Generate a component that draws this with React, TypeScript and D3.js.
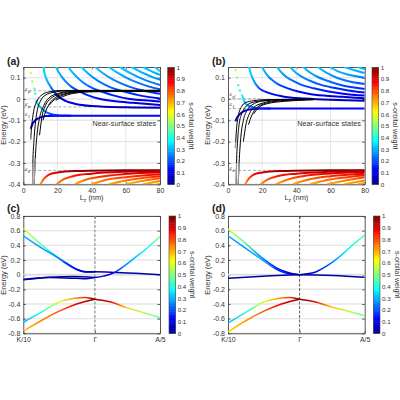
import React, {useEffect, useRef} from "react";
import * as d3 from "d3";

type Pt = number[];

// [Lz, E, weight]
const aWells: Pt[][] = [
  [[4.3, -0.14, 0.1], [5.5, -0.115, 0.1], [7, -0.1, 0.1], [9, -0.09, 0.11], [13.6, -0.08, 0.12], [25, -0.078, 0.13], [80, -0.078, 0.13]],
  [[7.2, -0.005, 0.36], [8.5, -0.025, 0.33], [10.7, -0.043, 0.3], [13, -0.06, 0.26], [15.6, -0.069, 0.2], [20, -0.076, 0.15], [28, -0.078, 0.13]],
  [[11.7, 0.15, 0.34], [12.3, 0.125, 0.33], [13, 0.105, 0.32], [15, 0.07, 0.28], [17, 0.045, 0.22], [20, 0.015, 0.15], [25, -0.01, 0.1], [30, -0.022, 0.08], [40, -0.033, 0.06], [60, -0.039, 0.05], [80, -0.041, 0.05]],
  [[19, 0.15, 0.33], [21, 0.122, 0.3], [23, 0.099, 0.27], [25, 0.08, 0.25], [28, 0.058, 0.22], [33, 0.035, 0.18], [38, 0.017, 0.15], [45, 0, 0.12], [54, -0.011, 0.09], [64, -0.018, 0.08], [80, -0.028, 0.07]],
  [[26.3, 0.15, 0.33], [29, 0.122, 0.3], [31.8, 0.099, 0.27], [34.6, 0.08, 0.25], [38.8, 0.058, 0.22], [45.7, 0.035, 0.18], [52.6, 0.017, 0.15], [62.3, 0, 0.12], [74.7, -0.0085, 0.1], [80, -0.012, 0.09]],
  [[34, 0.15, 0.33], [37.6, 0.122, 0.3], [41.2, 0.099, 0.27], [44.7, 0.08, 0.25], [50.1, 0.058, 0.22], [59, 0.035, 0.18], [68, 0.017, 0.15], [80, 0.002, 0.12]],
  [[42, 0.15, 0.33], [46.4, 0.122, 0.3], [50.8, 0.099, 0.27], [55.3, 0.08, 0.25], [61.9, 0.058, 0.22], [72.9, 0.035, 0.18], [80, 0.024, 0.16]],
  [[50, 0.15, 0.33], [55.3, 0.122, 0.3], [60.5, 0.099, 0.27], [65.8, 0.08, 0.25], [73.6, 0.058, 0.22], [80, 0.046, 0.2]],
  [[56.5, 0.15, 0.33], [62.4, 0.122, 0.3], [68.3, 0.099, 0.27], [74.3, 0.08, 0.25], [80, 0.066, 0.23]],
  [[63.4, 0.15, 0.33], [70.1, 0.122, 0.3], [76.8, 0.099, 0.27], [80, 0.09, 0.26]],
  [[70, 0.15, 0.33], [77.3, 0.122, 0.3], [80, 0.113, 0.29]],
  [[77, 0.15, 0.33], [80, 0.13, 0.31]],
];
const aDots: Pt[] = [[4.5, 0.122, 0.6], [5.3, 0.082, 0.52], [6.6, 0.048, 0.45], [7, 0.025, 0.42]];
const aBlack: Pt[][] = [
  [[4.3, -0.19], [5, -0.12], [6, -0.06], [8, -0.01], [11, 0.02], [15, 0.033], [22, 0.04], [80, 0.041]],
  [[5.4, -0.4], [5.6, -0.3], [6.2, -0.2], [7, -0.12], [8, -0.06], [10, -0.01], [13, 0.018], [18, 0.032], [25, 0.038], [80, 0.04]],
  [[6.4, -0.4], [7, -0.28], [8, -0.17], [9.5, -0.09], [12, -0.03], [15, 0.005], [20, 0.025], [28, 0.036], [35, 0.038], [80, 0.039]],
  [[9.5, -0.17], [11, -0.08], [13, -0.03], [16, 0.002], [20, 0.02], [27, 0.033], [38, 0.037], [80, 0.038]],
  [[11.5, -0.1], [13, -0.06], [15.5, -0.02], [19, 0.008], [24, 0.024], [32, 0.034], [45, 0.037], [80, 0.037]],
  [[15, -0.03], [18, -0.005], [22, 0.014], [28, 0.028], [38, 0.035], [50, 0.036], [80, 0.036]],
  [[19, -0.006], [23, 0.011], [29, 0.026], [38, 0.033], [55, 0.035], [80, 0.035]],
];
const aGrey: Pt[][] = [
  [[5.4, -0.4], [5.5, -0.34], [5.6, -0.3]],
  [[4.3, -0.19], [4.5, -0.17]],
  [[6.4, -0.4], [6.6, -0.34], [7, -0.28]],
];
const aRed: Pt[][] = [
  [[10, -0.4, 0.72], [12, -0.375, 0.8], [15, -0.355, 0.87], [20, -0.345, 0.93], [30, -0.338, 0.97], [50, -0.335, 1], [80, -0.334, 1]],
  [[19.5, -0.4, 0.72], [24, -0.375, 0.8], [30, -0.36, 0.86], [40, -0.35, 0.9], [60, -0.341, 0.95], [80, -0.338, 0.97]],
  [[30, -0.4, 0.7], [36, -0.38, 0.77], [45, -0.365, 0.83], [60, -0.352, 0.89], [80, -0.344, 0.93]],
  [[40, -0.4, 0.7], [48, -0.38, 0.77], [60, -0.367, 0.82], [80, -0.353, 0.88]],
  [[50, -0.4, 0.7], [60, -0.382, 0.76], [70, -0.37, 0.8], [80, -0.362, 0.85]],
  [[60, -0.4, 0.7], [70, -0.384, 0.75], [80, -0.372, 0.8]],
  [[70, -0.4, 0.7], [80, -0.385, 0.75]],
  [[78, -0.4, 0.7], [80, -0.397, 0.71]],
];

const bWells: Pt[][] = [
  [[4.3, -0.105, 0.1], [5.5, -0.085, 0.1], [7, -0.07, 0.1], [10, -0.055, 0.1], [14, -0.048, 0.11], [20, -0.045, 0.12], [80, -0.045, 0.13]],
  [[8, 0.02, 0.38], [9, 0, 0.35], [10, -0.02, 0.32], [13, -0.035, 0.25], [17, -0.043, 0.18], [25, -0.045, 0.13]],
  [[12.3, 0.15, 0.34], [13.5, 0.115, 0.32], [15.8, 0.075, 0.27], [18, 0.052, 0.2], [22.6, 0.032, 0.14], [32, 0.012, 0.09], [45, 0.002, 0.06], [80, -0.008, 0.05]],
  [[20, 0.15, 0.32], [22, 0.122, 0.29], [24, 0.102, 0.26], [26, 0.088, 0.24], [30, 0.066, 0.2], [35, 0.05, 0.16], [41, 0.035, 0.13], [47, 0.025, 0.11], [56, 0.016, 0.09], [67, 0.01, 0.08], [80, 0.003, 0.07]],
  [[28.7, 0.15, 0.32], [31.6, 0.122, 0.29], [34.4, 0.102, 0.26], [37.3, 0.088, 0.24], [43, 0.066, 0.2], [50.2, 0.05, 0.17], [58.8, 0.035, 0.14], [67.4, 0.025, 0.12], [80, 0.016, 0.1]],
  [[36.3, 0.15, 0.32], [39.9, 0.122, 0.29], [43.6, 0.102, 0.26], [47.2, 0.088, 0.24], [54.5, 0.066, 0.2], [63.5, 0.05, 0.17], [74.4, 0.035, 0.14], [80, 0.03, 0.13]],
  [[44, 0.15, 0.32], [48.4, 0.122, 0.29], [52.8, 0.102, 0.26], [57.2, 0.088, 0.24], [66, 0.066, 0.2], [77, 0.05, 0.17], [80, 0.047, 0.16]],
  [[52.5, 0.15, 0.32], [57.8, 0.122, 0.29], [63, 0.102, 0.26], [68.3, 0.088, 0.24], [80, 0.07, 0.2]],
  [[59.7, 0.15, 0.32], [64, 0.131, 0.3], [70, 0.115, 0.28], [80, 0.1, 0.25]],
  [[68, 0.15, 0.32], [74, 0.135, 0.3], [80, 0.122, 0.28]],
  [[76, 0.15, 0.32], [80, 0.139, 0.31]],
];
const bDots: Pt[] = [[4.4, 0.135, 0.58], [5.3, 0.1, 0.5], [6, 0.065, 0.44], [7, 0.04, 0.42]];
const bBlack: Pt[][] = [
  [[4.3, -0.23], [5, -0.14], [6, -0.08], [8, -0.035], [10, -0.018], [15, -0.008], [22, -0.003], [50, -0.001]],
  [[4.8, -0.4], [5, -0.3], [5.6, -0.2], [6.5, -0.12], [8, -0.07], [10, -0.04], [13, -0.02], [20, -0.008], [30, -0.003], [50, -0.0015]],
  [[6, -0.4], [6.5, -0.3], [7.5, -0.18], [9, -0.1], [11, -0.055], [14, -0.028], [20, -0.01], [30, -0.004], [50, -0.002]],
  [[9, -0.2], [10.5, -0.12], [12.5, -0.07], [15, -0.04], [20, -0.02], [30, -0.006], [40, -0.003], [50, -0.0025]],
  [[12, -0.12], [14, -0.075], [17, -0.04], [22, -0.02], [32, -0.008], [45, -0.004]],
  [[15, -0.07], [18, -0.04], [23, -0.022], [33, -0.011], [50, -0.004]],
];
const bGrey: Pt[][] = [
  [[4.8, -0.4], [4.9, -0.34], [5, -0.3]],
  [[6, -0.4], [6.2, -0.34], [6.5, -0.3]],
  [[4.3, -0.23], [4.5, -0.2]],
];
const bRed: Pt[][] = [
  [[10, -0.4, 0.72], [12, -0.375, 0.8], [15, -0.355, 0.87], [20, -0.345, 0.93], [30, -0.338, 0.97], [50, -0.335, 1], [80, -0.334, 1]],
  [[19, -0.4, 0.72], [24, -0.375, 0.8], [30, -0.36, 0.86], [40, -0.35, 0.9], [60, -0.341, 0.95], [80, -0.337, 0.97]],
  [[28, -0.4, 0.7], [36, -0.375, 0.78], [45, -0.36, 0.85], [60, -0.349, 0.9], [80, -0.342, 0.94]],
  [[38, -0.4, 0.7], [46, -0.38, 0.77], [60, -0.362, 0.84], [80, -0.35, 0.9]],
  [[48, -0.4, 0.7], [58, -0.38, 0.77], [70, -0.367, 0.82], [80, -0.358, 0.86]],
  [[58, -0.4, 0.7], [68, -0.383, 0.75], [80, -0.367, 0.82]],
  [[68, -0.4, 0.7], [80, -0.382, 0.75]],
  [[76, -0.4, 0.7], [80, -0.394, 0.72]],
];

// [k, E, weight], k runs K/10 (-1.1) .. Gamma (0) .. A/5 (1)
const cBands: Pt[][] = [
  [[-1.1, 0.63, 0.58], [-0.9, 0.47, 0.5], [-0.7, 0.32, 0.38], [-0.56, 0.23, 0.3], [-0.44, 0.16, 0.2], [-0.28, 0.075, 0.1], [-0.13, 0.04, 0.05], [0, 0.04, 0.03], [0.33, 0.03, 0.03], [0.69, 0.015, 0.03], [1, 0, 0.03]],
  [[-1.1, 0.53, 0.3], [-0.9, 0.41, 0.28], [-0.7, 0.3, 0.28], [-0.56, 0.225, 0.26], [-0.44, 0.15, 0.18], [-0.28, 0.07, 0.1], [-0.13, 0.035, 0.05], [0, 0.035, 0.03]],
  [[0, -0.04, 0.05], [0.13, -0.02, 0.08], [0.28, 0.02, 0.13], [0.44, 0.11, 0.25], [0.59, 0.215, 0.3], [0.8, 0.36, 0.38], [1, 0.52, 0.5]],
  [[-1.1, -0.07, 0.02], [-0.7, -0.035, 0.02], [-0.33, -0.025, 0.02], [0, -0.04, 0.05]],
  [[-1.1, -0.065, 0.02], [-0.7, -0.04, 0.02], [-0.28, -0.05, 0.03], [-0.13, -0.055, 0.03], [0, -0.04, 0.05]],
  [[-1.1, -0.65, 0.3], [-0.8, -0.5, 0.42], [-0.54, -0.37, 0.6], [-0.33, -0.325, 0.72], [-0.15, -0.31, 0.83], [0, -0.335, 1]],
  [[-1.1, -0.77, 0.68], [-0.8, -0.615, 0.75], [-0.54, -0.495, 0.8], [-0.28, -0.4, 0.9], [0, -0.335, 1]],
  [[0, -0.335, 1], [0.23, -0.37, 0.9], [0.49, -0.45, 0.68], [0.75, -0.52, 0.55], [1, -0.585, 0.45]],
];
const dBands: Pt[][] = [
  [[-1.1, 0.62, 0.58], [-0.86, 0.45, 0.48], [-0.6, 0.245, 0.27], [-0.35, 0.09, 0.13], [-0.14, 0.02, 0.05], [0, 0, 0.03]],
  [[-1.1, 0.53, 0.3], [-0.86, 0.38, 0.27], [-0.6, 0.22, 0.3], [-0.35, 0.07, 0.18], [-0.14, 0.008, 0.1], [0, 0, 0.03]],
  [[0, 0, 0.03], [0.21, 0.025, 0.08], [0.42, 0.12, 0.2], [0.62, 0.25, 0.32], [0.72, 0.33, 0.36], [0.85, 0.43, 0.42], [1, 0.54, 0.47]],
  [[-1.1, -0.05, 0.02], [-0.5, -0.02, 0.02], [0, 0, 0.02], [0.52, -0.01, 0.02], [1, -0.035, 0.02]],
  [[-1.1, -0.66, 0.3], [-0.8, -0.5, 0.42], [-0.54, -0.37, 0.6], [-0.33, -0.325, 0.72], [-0.15, -0.31, 0.83], [0, -0.335, 1]],
  [[-1.1, -0.78, 0.66], [-0.8, -0.615, 0.73], [-0.54, -0.495, 0.8], [-0.28, -0.4, 0.9], [0, -0.335, 1]],
  [[0, -0.335, 1], [0.23, -0.37, 0.9], [0.49, -0.44, 0.68], [0.75, -0.5, 0.55], [1, -0.56, 0.48]],
];

const jetStops = [0, 0.125, 0.375, 0.625, 0.875, 1];
const jetColors = ["#00008f", "#0000ff", "#00ffff", "#ffff00", "#ff0000", "#800000"];
const cbTicks = [0, 0.1, 0.2, 0.3, 0.4, 0.5, 0.6, 0.7, 0.8, 0.9, 1];
const lzTicks = [0, 20, 40, 60, 80];
const topEnergyTicks = [-0.4, -0.3, -0.2, -0.1, 0, 0.1];
const bandEnergyTicks = [-0.8, -0.6, -0.4, -0.2, 0, 0.2, 0.4, 0.6, 0.8];
const kTicks = [-1.1, 0, 1];
const kLabels = ["K/10", "Γ", "A/5"];

const FONT = "'Liberation Sans', Arial, sans-serif";
const FRAME = "#444";
const jet = d3.scaleLinear<string>().domain(jetStops).range(jetColors);

function axes(g: any, x: any, y: any, xTicks: number[], yTicks: number[], xFmt: any, yFmt: any) {
  const [x0, x1] = x.range();
  const [y0, y1] = y.range();
  g.append("g").selectAll("line").data(yTicks).join("line")
    .attr("x1", x0).attr("x2", x1).attr("y1", (d: number) => y(d)).attr("y2", (d: number) => y(d))
    .attr("stroke", "#e6e6e6").attr("stroke-width", 1.4);
  g.append("g").attr("transform", `translate(0,${y0})`).attr("class", "ax")
    .call(d3.axisBottom(x).tickValues(xTicks).tickFormat(xFmt).tickSizeInner(-2.5).tickSizeOuter(0).tickPadding(4));
  g.append("g").attr("transform", `translate(${x0},0)`).attr("class", "ax")
    .call(d3.axisLeft(y).tickValues(yTicks).tickFormat(yFmt).tickSizeInner(-2.5).tickSizeOuter(0).tickPadding(3));
  g.append("g").attr("transform", `translate(${x1},0)`).attr("class", "ax")
    .call(d3.axisRight(y).tickValues(yTicks).tickFormat(() => "").tickSizeInner(-2.5).tickSizeOuter(0));
  g.append("g").attr("transform", `translate(0,${y1})`).attr("class", "ax")
    .call(d3.axisTop(x).tickValues(xTicks).tickFormat(() => "").tickSizeInner(-2.5).tickSizeOuter(0));
  g.selectAll(".ax text").attr("font-family", FONT).attr("font-size", 7).attr("fill", "#333");
  g.selectAll(".ax line, .ax path").attr("stroke", FRAME).attr("stroke-width", 0.9);
}

let gradId = 0;
function colored(svg: any, g: any, x: any, y: any, curves: Pt[][], width: number, clip: string) {
  const line = d3.line<Pt>().x((d) => x(d[0])).y((d) => y(d[1])).curve(d3.curveMonotoneX);
  const defs = svg.select("defs");
  curves.forEach((c) => {
    const id = "grad" + gradId++;
    const first = c[0][0];
    const last = c[c.length - 1][0];
    const grad = defs.append("linearGradient").attr("id", id).attr("gradientUnits", "userSpaceOnUse")
      .attr("x1", x(first)).attr("x2", x(last)).attr("y1", 0).attr("y2", 0);
    c.forEach((p) => {
      grad.append("stop").attr("offset", (p[0] - first) / (last - first)).attr("stop-color", jet(p[2]));
    });
    g.append("path").attr("d", line(c)).attr("fill", "none").attr("stroke", `url(#${id})`)
      .attr("stroke-width", width).attr("clip-path", `url(#${clip})`);
  });
}

function plain(g: any, x: any, y: any, curves: Pt[][], color: string, width: number, clip: string) {
  const line = d3.line<Pt>().x((d) => x(d[0])).y((d) => y(d[1])).curve(d3.curveMonotoneX);
  g.append("g").selectAll("path").data(curves).join("path")
    .attr("d", (d: Pt[]) => line(d)).attr("fill", "none").attr("stroke", color)
    .attr("stroke-width", width).attr("clip-path", `url(#${clip})`);
}

function colorbar(g: any, left: number, top: number, bottom: number, labelX: number) {
  const y = d3.scaleLinear().domain([0, 1]).range([bottom, top]);
  const cells = d3.range(64).map((i) => i / 64);
  g.append("g").selectAll("rect").data(cells).join("rect")
    .attr("x", left).attr("width", 6.7)
    .attr("y", (d: number) => y(d + 1 / 64)).attr("height", (bottom - top) / 64 + 0.4)
    .attr("fill", (d: number) => jet(d + 1 / 128));
  g.append("rect").attr("x", left).attr("y", top).attr("width", 6.7).attr("height", bottom - top)
    .attr("fill", "none").attr("stroke", FRAME).attr("stroke-width", 0.6);
  const ax = g.append("g").attr("transform", `translate(${left + 6.7},0)`)
    .call(d3.axisRight(y).tickValues(cbTicks).tickFormat((d: any) => `${+d}`).tickSize(0).tickPadding(2));
  ax.select("path").remove();
  ax.selectAll("text").attr("font-family", FONT).attr("font-size", 6.2).attr("fill", "#333");
  g.append("text").attr("transform", `translate(${labelX},${(top + bottom) / 2}) rotate(90)`)
    .attr("text-anchor", "middle").attr("font-family", FONT).attr("font-size", 7).attr("fill", "#333")
    .text("s-orbital weight");
}

function yTitle(g: any, px: number, py: number) {
  g.append("text").attr("transform", `translate(${px},${py}) rotate(-90)`)
    .attr("text-anchor", "middle").attr("font-family", FONT).attr("font-size", 7.4).attr("fill", "#333")
    .text("Energy (eV)");
}

function panelLabel(g: any, px: number, py: number, s: string) {
  g.append("text").attr("x", px).attr("y", py).attr("font-family", FONT).attr("font-weight", "bold")
    .attr("font-size", 10.5).attr("fill", "#222").text(s);
}

function epsLabel(g: any, px: number, py: number, sub: string) {
  const t = g.append("text").attr("x", px).attr("y", py).attr("font-family", "'DejaVu Serif', serif")
    .attr("font-style", "italic").attr("font-size", 5).attr("fill", "#333").text("ε");
  t.append("tspan").attr("dy", 1.5).attr("font-size", 4).text(sub);
}

function topPanel(svg: any, opts: any) {
  const {left, wells, dots, black, grey, red, dashes, name, barLeft, barLabel, titleX, labelX, epsilons, clip} = opts;
  const g = svg.append("g");
  const x = d3.scaleLinear().domain([0, 80]).range([left, left + 136.7]);
  const y = d3.scaleLinear().domain([-0.4, 0.15]).range([184.3, 67]);
  svg.select("defs").append("clipPath").attr("id", clip).append("rect")
    .attr("x", left).attr("y", 67).attr("width", 136.7).attr("height", 117.3);
  axes(g, x, y, lzTicks, topEnergyTicks, (d: any) => `${d}`, (d: any) => `${+d}`);
  g.append("g").selectAll("line").data([20, 40, 60]).join("line")
    .attr("x1", (d: number) => x(d)).attr("x2", (d: number) => x(d)).attr("y1", 67).attr("y2", 184.3)
    .attr("stroke", "#dcdcdc").attr("stroke-width", 0.7);
  g.append("g").selectAll("line").data(dashes).join("line")
    .attr("x1", (d: number[]) => x(d[1])).attr("x2", (d: number[]) => x(d[2]))
    .attr("y1", (d: number[]) => y(d[0])).attr("y2", (d: number[]) => y(d[0]))
    .attr("stroke", "#888").attr("stroke-width", 0.7).attr("stroke-dasharray", "3 2");
  colored(svg, g, x, y, wells, 2, clip);
  colored(svg, g, x, y, red, 2, clip);
  g.append("g").selectAll("circle").data(dots).join("circle")
    .attr("cx", (d: Pt) => x(d[0])).attr("cy", (d: Pt) => y(d[1])).attr("r", 1.2)
    .attr("fill", (d: Pt) => jet(d[2]));
  plain(g, x, y, black, "#000", 1, clip);
  plain(g, x, y, grey, "#999", 1.2, clip);
  epsilons.forEach((e: any[]) => epsLabel(g, e[0], e[1], e[2]));
  g.append("text").attr("x", x(40.5)).attr("y", 125.5).attr("font-family", FONT).attr("font-size", 7.3)
    .attr("fill", "#333").text("Near-surface states");
  const xl = g.append("text").attr("x", x(40)).attr("y", 200).attr("text-anchor", "middle")
    .attr("font-family", FONT).attr("font-size", 7.4).attr("fill", "#333").text("L");
  xl.append("tspan").attr("dy", 1.5).attr("font-size", 5).text("z");
  xl.append("tspan").attr("dy", -1.5).text(" (nm)");
  yTitle(g, titleX, 125);
  panelLabel(g, labelX, 65, name);
  colorbar(g, barLeft, 67.3, 184.3, barLabel);
}

function bandPanel(svg: any, opts: any) {
  const {left, bands, name, barLeft, barLabel, titleX, labelX, gamma, clip} = opts;
  const g = svg.append("g");
  const x = d3.scaleLinear().domain([-1.1, 1]).range([left, left + 136.7]);
  const y = d3.scaleLinear().domain([-0.8, 0.8]).range([333.3, 216]);
  svg.select("defs").append("clipPath").attr("id", clip).append("rect")
    .attr("x", left).attr("y", 216).attr("width", 136.7).attr("height", 117.3);
  axes(g, x, y, kTicks, bandEnergyTicks, (_: any, i: number) => kLabels[i], (d: any) => `${+d}`);
  g.append("line").attr("x1", x(-1.1)).attr("x2", x(1)).attr("y1", y(0)).attr("y2", y(0))
    .attr("stroke", "#ddd").attr("stroke-width", 1.6);
  g.append("line").attr("x1", x(0)).attr("x2", x(0)).attr("y1", 216).attr("y2", 333.3)
    .attr("stroke", gamma[0]).attr("stroke-width", gamma[1]).attr("stroke-dasharray", "3 1.5");
  colored(svg, g, x, y, bands, 1.5, clip);
  yTitle(g, titleX, 275);
  panelLabel(g, labelX, 212, name);
  colorbar(g, barLeft, 216, 333.3, barLabel);
}

export default function App() {
  const ref = useRef<SVGSVGElement>(null);

  useEffect(() => {
    const svg = d3.select(ref.current);
    svg.selectAll("*").remove();
    gradId = 0;
    svg.append("defs");
    topPanel(svg, {
      left: 23.3, wells: aWells, dots: aDots, black: aBlack, grey: aGrey, red: aRed,
      dashes: [[0.038, 0, 20], [-0.037, 0, 80], [-0.335, 0, 80]],
      name: "(a)", barLeft: 167.7, barLabel: 188.5, titleX: 6, labelX: 7, clip: "clipA",
      epsilons: [[25, 91, "p'"], [25, 106, "p"], [25, 116, "1"], [25, 171, "s"]],
    });
    topPanel(svg, {
      left: 228, wells: bWells, dots: bDots, black: bBlack, grey: bGrey, red: bRed,
      dashes: [[0, 0, 20], [-0.045, 0, 80], [-0.335, 0, 80]],
      name: "(b)", barLeft: 372, barLabel: 393, titleX: 210, labelX: 212, clip: "clipB",
      epsilons: [[229.5, 96, "p'"], [229.5, 106, "1"], [229.5, 170, "s"]],
    });
    bandPanel(svg, {
      left: 23.3, bands: cBands, name: "(c)", barLeft: 169, barLabel: 190, titleX: 6, labelX: 7,
      gamma: ["#999", 1.3], clip: "clipC",
    });
    bandPanel(svg, {
      left: 228, bands: dBands, name: "(d)", barLeft: 373.3, barLabel: 394.5, titleX: 210, labelX: 212,
      gamma: ["#333", 0.8], clip: "clipD",
    });
  }, []);

  return (
    <svg ref={ref} width={400} height={400} style={{position: "absolute", left: 0, top: 0, background: "#fff"}} />
  );
}
